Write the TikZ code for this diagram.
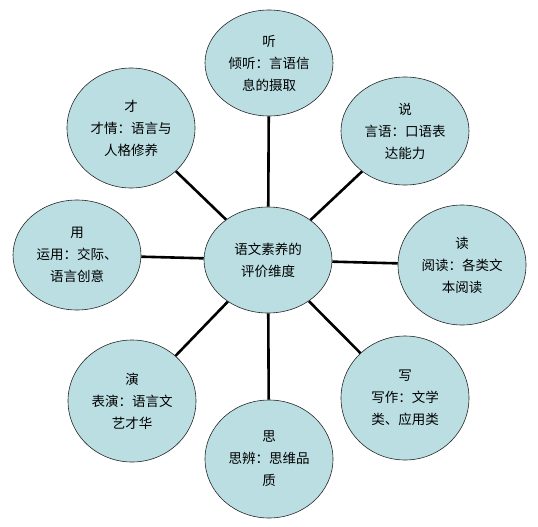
\documentclass[tikz,border=0pt]{standalone}
\usepackage{fontspec}
\newfontfamily\cjk{Noto Sans CJK SC}
\usetikzlibrary{shapes.geometric}
\definecolor{bubblefill}{RGB}{186,222,226}

\begin{document}
\begin{tikzpicture}[x=1pt, y=-1pt,
        bubble/.style={ellipse, draw=black!85, line width=0.6pt, fill=bubblefill,
            minimum width=128pt, minimum height=118pt, inner sep=0pt, align=center,
            font=\cjk\fontsize{13.5}{22}\selectfont},
        spoke/.style={black, line width=2.6pt}]
        \useasboundingbox (0,0) rectangle (538,527);

        % Centre
        \node[bubble, minimum height=106pt] (core) at (268,260) {语文素养的\\评价维度};

        % Dimensions
        \node[bubble, minimum height=106pt] (ting) at (269,63) {听\\倾听：言语信\\息的摄取};
        \node[bubble, minimum height=108pt] (shuo) at (405,131) {说\\言语：口语表\\达能力};
        \node[bubble, minimum height=120pt] (du) at (462,265) {读\\阅读：各类文\\本阅读};
        \node[bubble, minimum height=124pt] (xie) at (405,398) {写\\写作：文学\\类、应用类};
        \node[bubble] (si) at (269,459) {思\\思辨：思维品\\质};
        \node[bubble, minimum height=122pt] (yan) at (132,401) {演\\表演：语言文\\艺才华};
        \node[bubble, minimum height=110pt] (yong) at (77,255) {用\\运用：交际、\\语言创意};
        \node[bubble, minimum height=120pt] (cai) at (131,128) {才\\才情：语言与\\人格修养};

        % Spokes
        \foreach \d in {ting, shuo, du, xie, si, yan, yong, cai}
            \draw[spoke] (core) -- (\d);
    \end{tikzpicture}
\end{document}
